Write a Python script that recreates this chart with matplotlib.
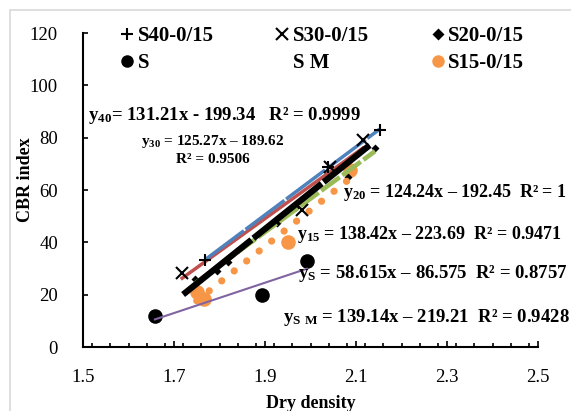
import numpy as np
import matplotlib.pyplot as plt
from matplotlib.lines import Line2D
from matplotlib.patches import Rectangle
from matplotlib.ticker import MultipleLocator

plt.rcParams['font.family'] = ['Liberation Serif', 'DejaVu Serif']
plt.rcParams['mathtext.fontset'] = 'custom'
plt.rcParams['mathtext.rm'] = 'Liberation Serif'
plt.rcParams['mathtext.bf'] = 'Liberation Serif:bold'

# values (dry density, CBR index)
s40_x = [1.768, 2.038, 2.152]
s40_y = [33.2, 68.8, 83.0]
s30_x = [1.718, 1.981, 2.043, 2.115]
s30_y = [28.3, 52.3, 68.8, 79.1]
s20_x = [1.746, 1.795, 1.819, 1.926, 1.968, 1.995, 2.082, 2.142]
s20_y = [26.0, 29.0, 32.5, 47.4, 53.5, 56.9, 65.0, 76.0]
s_x = [1.658, 1.893, 1.992]
s_y = [11.8, 19.9, 32.9]
sm_x = [1.72, 1.80, 1.90, 2.00, 2.13]
sm_y = [20.0, 31.0, 45.5, 59.0, 77.0]
s15_x = [1.75, 1.765, 1.95, 2.087]
s15_y = [21.0, 18.5, 40.1, 67.6]

labels = ['S40-0/15', 'S30-0/15', 'S20-0/15', 'S', 'S M', 'S15-0/15']
equations = [
    r'$\mathbf{y_{40}}$= 131.21x - 199.34   R² = 0.9999',
    r'$\mathbf{y_{30}}$ = 125.27x – 189.62',
    'R² = 0.9506',
    r'$\mathbf{y_{20}}$ = 124.24x – 192.45  R² = 1',
    r'$\mathbf{y_{15}}$ = 138.42x – 223.69  R² = 0.9471',
    r'$\mathbf{y_{S}}$ = 58.615x – 86.575  R² = 0.8757',
    r'$\mathbf{y_{S\ M}}$ = 139.14x – 219.21  R² = 0.9428',
]

W, H = 571, 411
fig = plt.figure(figsize=(W / 100, H / 100), dpi=100)

def fx(px):
    return px / W

def fy(py):
    return 1 - py / H

# light grey chart-area border
fig.patches.append(Rectangle((fx(10), fy(H + 20)), 1.2, fy(10) - fy(H + 20),
                             transform=fig.transFigure, fill=False,
                             edgecolor='#D9D9D9', lw=1.2))

ax = fig.add_axes([fx(83), fy(347), fx(538) - fx(83), fy(33) - fy(347)])

def trend(x, y, **kw):
    k, b = np.polyfit(x, y, 1)
    xx = np.array([min(x), max(x)])
    ax.plot(xx, k * xx + b, **kw)

# markers
ax.plot(s15_x, s15_y, 'o', color='#F79646', ms=10.5, mec='none', zorder=2)
ax.plot(s_x, s_y, 'o', color='black', ms=10.5, mec='none', zorder=2)
ax.plot(s30_x, s30_y, 'x', color='black', ms=9, mew=1.5, zorder=4)
ax.plot(s40_x, s40_y, '+', color='black', ms=9, mew=1.5, zorder=4)
ax.plot(s20_x, s20_y, 'D', color='black', ms=4.5, mec='none', zorder=2)

# trendlines
trend(s30_x, s30_y, color='#C0504D', lw=2.5, zorder=3)
trend(s40_x, s40_y, color='#4F81BD', lw=2.5, ls=(0, (14, 0.6)), zorder=3)
trend(s20_x, s20_y, color='#9BBB59', lw=3.3, ls=(0, (5, 0.7)), zorder=3)
trend(s15_x, s15_y, color='#F79646', lw=5.2, ls=(0, (0.01, 2.2)),
      dash_capstyle='round', zorder=3)
trend(sm_x, sm_y, color='black', lw=4.5, ls=(0, (14, 0.4)), zorder=3)
trend(s_x, s_y, color='#8064A2', lw=1.5, zorder=3)

ax.set_xlim(1.5, 2.5)
ax.set_ylim(0, 120)
ax.xaxis.set_major_locator(MultipleLocator(0.2))
ax.xaxis.set_minor_locator(MultipleLocator(0.04))
ax.yaxis.set_major_locator(MultipleLocator(20))
ax.set_xticks([1.5, 1.7, 1.9, 2.1, 2.3, 2.5])
ax.set_xticklabels(['1.5', '1.7', '1.9', '2.1', '2.3', '2.5'])
for side in ['top', 'right']:
    ax.spines[side].set_visible(False)
for side in ['left', 'bottom']:
    ax.spines[side].set_linewidth(1.5)
ax.tick_params(axis='x', which='major', direction='in', length=4.3, width=1.2,
               pad=16, labelsize=13.5)
ax.tick_params(axis='x', which='minor', direction='in', length=3.2, width=1.2)
ax.tick_params(axis='y', which='major', direction='in', length=3.6, width=1.2,
               pad=18, labelsize=13.5)

fig.text(fx(310.5), fy(408), 'Dry density', ha='center', va='baseline',
         fontsize=13, fontweight='bold')
fig.text(fx(26), fy(180), 'CBR index', ha='center', va='center', rotation=90,
         fontsize=13, fontweight='bold')

# legend, 2 rows x 3 columns
handles = [
    Line2D([], [], ls='none', marker='+', color='black', ms=9, mew=1.5),
    Line2D([], [], ls='none', marker='o', color='black', ms=9, mec='none'),
    Line2D([], [], ls='none', marker='x', color='black', ms=8, mew=1.5),
    Line2D([], [], ls='none'),
    Line2D([], [], ls='none', marker='D', color='black', ms=6, mec='none'),
    Line2D([], [], ls='none', marker='o', color='#F79646', ms=9, mec='none'),
]
order = [labels[0], labels[3], labels[1], labels[4], labels[2], labels[5]]
fig.legend(handles, order, loc='upper left', bbox_to_anchor=(fx(119), fy(26)),
           ncol=3, frameon=False, borderpad=0, borderaxespad=0,
           handlelength=0.8, handletextpad=0.1, columnspacing=2.9,
           labelspacing=0.35, prop={'weight': 'bold', 'size': 15})

# trendline equations
eq_kw = dict(fontweight='bold', va='baseline')
fig.text(fx(88), fy(113 + 6.5), equations[0], fontsize=13.5, **eq_kw)
fig.text(fx(213), fy(140 + 5), equations[1], fontsize=11, ha='center', **eq_kw)
fig.text(fx(213), fy(158 + 5), equations[2], fontsize=11, ha='center', **eq_kw)
fig.text(fx(343), fy(190 + 6.5), equations[3], fontsize=13, **eq_kw)
fig.text(fx(297), fy(232 + 6.5), equations[4], fontsize=13, **eq_kw)
fig.text(fx(298), fy(272 + 6.5), equations[5], fontsize=13.5, **eq_kw)
fig.text(fx(283), fy(315 + 6.5), equations[6], fontsize=13.5, **eq_kw)

fig.savefig('out.png', dpi=100)
